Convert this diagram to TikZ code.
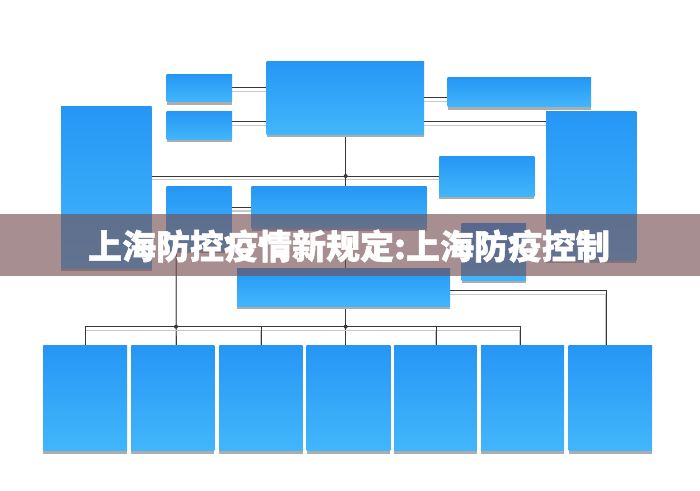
\documentclass[tikz,border=0pt]{standalone}
\usepackage{fontspec}
\newfontfamily\cjk{Noto Sans CJK SC}[BoldFeatures={FakeBold=1.5}]
\usetikzlibrary{shadows,backgrounds}
\definecolor{boxtop}{RGB}{38,150,245}
\definecolor{boxbot}{RGB}{66,182,251}
\definecolor{shadowgray}{RGB}{172,172,172}
\definecolor{linedark}{RGB}{55,55,55}
\definecolor{linelight}{RGB}{200,200,200}
\definecolor{bandcol}{RGB}{117,77,82}
\tikzset{
  blk/.style={rectangle, inner sep=0pt, outer sep=0pt, draw=none,
    top color=boxtop, bottom color=boxbot,
    general shadow={fill=shadowgray, shadow yshift=-3pt}},
  conn/.style={draw=linedark, line width=0.9pt,
    preaction={draw=linelight, line width=1.3pt, transform canvas={yshift=-3.5pt}}},
  jdot/.style={circle, fill=linedark, inner sep=0pt, minimum size=4pt},
  band/.style={fill=bandcol, fill opacity=0.63, draw=none},
  title/.style={font=\cjk\bfseries\fontsize{34}{34}\selectfont, text=white, inner sep=0pt},
}
\newcommand{\bx}[5]{%
  \node[blk, minimum width={(#4-#2)*1pt}, minimum height={(#5-#3)*1pt}]
    (#1) at ({(#2+#4)/2},{(#3+#5)/2}) {};}
\begin{document}
\begin{tikzpicture}[x=1pt,y=-1pt]
\useasboundingbox (0,0) rectangle (700,490);
% boxes
\bx{L}{61}{106.7}{151.7}{268.3}
\bx{A1}{166.7}{74}{232}{101.7}
\bx{A2}{166.7}{111.3}{232}{139}
\bx{T}{266.7}{61.7}{424}{134}
\bx{R1}{447.7}{77.7}{591}{106.7}
\bx{R2}{546}{111.3}{636.3}{260}
\bx{R3}{439.3}{156}{534.3}{196}
\bx{B1}{166.7}{186.7}{231.7}{250}
\bx{M}{251.7}{186.7}{426.7}{228}
\bx{N}{237}{268}{450}{306}
\bx{R4}{461.7}{223.3}{526}{280}
\bx{P1}{43.3}{345.3}{127}{450.7}
\bx{P2}{131.3}{345.3}{214.3}{450.7}
\bx{P3}{219.3}{345.3}{302.7}{450.7}
\bx{P4}{306.7}{345.3}{390.3}{450.7}
\bx{P5}{394}{345.3}{476.7}{450.7}
\bx{P6}{481}{345.3}{564}{450.7}
\bx{P7}{568.7}{345.3}{652}{450.7}
% bus coordinates
\coordinate (v1) at (85.7,326.7);
\coordinate (v2) at (176,326.7);
\coordinate (v3) at (261,326.7);
\coordinate (v4) at (345.7,326.7);
\coordinate (v5) at (436,326.7);
\coordinate (v6) at (520,326.7);
\coordinate (v7) at (606,345.3);
\coordinate (h) at (345.7,176);
% connectors (behind boxes)
\begin{scope}[on background layer]
\fill[white] (0,0) rectangle (700,490);
\draw[conn] (A1.east) -- (A1.east -| T.west);
\draw[conn] ([yshift=3.3pt]A2.east) -- ([yshift=3.3pt]A2.east -| T.west);
\draw[conn] (T.east) -- (T.east -| R1.west);
\draw[conn] ([yshift=-23.8pt]T.east) -- ([yshift=-23.8pt]T.east -| R2.west);
\draw[conn] (R3.west -| L.east) -- (R3.west);
\draw[conn] (h |- T.south) -- (h |- M.north);
\draw[conn] (M.west -| B1.east) -- (M.west);
\draw[conn] (v4 |- M.south) -- (v4) -- (v4 |- P4.north);
\draw[conn] (v2 |- B1.south) -- (v2) -- (v2 |- P2.north);
\draw[conn] (v1 |- P1.north) -- (v1) -- (v6) -- (v6 |- P6.north);
\draw[conn] (v3) -- (v3 |- P3.north);
\draw[conn] (v5) -- (v5 |- P5.north);
\draw[conn] ([yshift=-3.7pt]N.east) -| (v7);
\end{scope}
\node[jdot] (d1) at (h) {};
\node[jdot] (d2) at (v2) {};
\node[jdot] (d3) at (v4) {};
% band and title
\fill[band] (0,214) rectangle (700,276);
\node[title] (ttl) at (349,246) {上海防控疫情新规定:上海防疫控制};
\end{tikzpicture}
\end{document}
